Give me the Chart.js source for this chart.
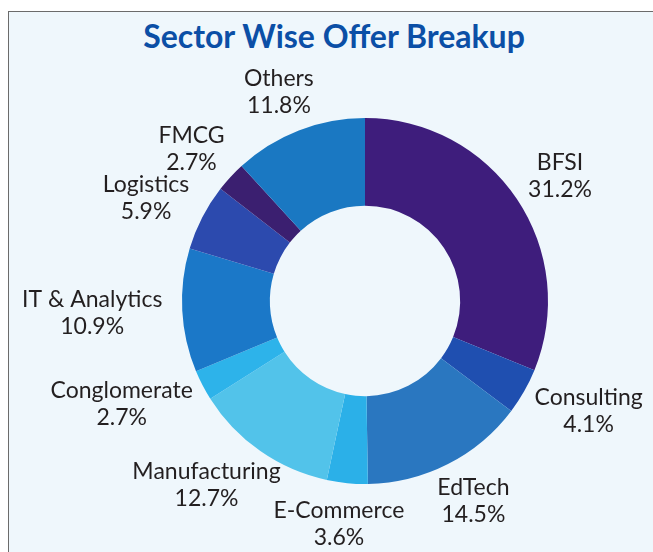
<!DOCTYPE html>
<html>
<head>
<meta charset="utf-8">
<script src="https://cdn.jsdelivr.net/npm/chart.js@4"></script>
<style>
  body { margin: 0; background: #ffffff; width: 653px; height: 552px; overflow: hidden; position: relative; font-family: Lato, sans-serif; }
  .panel { position: absolute; left: 8px; top: 11px; width: 700px; height: 600px; border-top: 1px solid #6b6b6b; border-left: 1px solid #6b6b6b; background: #eff7fc; }
  .title { position: absolute; left: 0; top: 16px; width: 668px; line-height: 40px; text-align: center; font: bold 32px Lato, sans-serif; color: #0b4fa6; }
  canvas { position: absolute; left: 0; top: 0; }
</style>
</head>
<body>
<div class="panel"></div>
<div class="title">Sector Wise Offer Breakup</div>
<canvas id="sectorChart" width="653" height="552"></canvas>
<script>
// Sector shares (percent), clockwise from 12 o'clock
const sectors = ['BFSI', 'Consulting', 'EdTech', 'E-Commerce', 'Manufacturing',
    'Conglomerate', 'IT & Analytics', 'Logistics', 'FMCG', 'Others'];
const shares = [31.2, 4.1, 14.5, 3.6, 12.7, 2.7, 10.9, 5.9, 2.7, 11.8];
const sliceColors = ['#3e1d7c', '#1f4fb0', '#2a77c0', '#2bb0e8', '#52c3ea',
    '#2db3ea', '#1b78c8', '#2c4aae', '#3b1f70', '#1a78c2'];

// Draw "name / value%" labels outside each slice
const outerLabels = {
    id: 'outerLabels',
    afterDatasetsDraw(chart) {
        const c = chart.ctx;
        const arcs = chart.getDatasetMeta(0).data;
        c.save();
        c.font = '23px Lato, sans-serif';
        c.fillStyle = '#231f20';
        c.textAlign = 'center';
        c.textBaseline = 'middle';
        const lineH = 27;
        arcs.forEach((arc, i) => {
            const mid = (arc.startAngle + arc.endAngle) / 2;
            const ux = Math.cos(mid);
            const uy = Math.sin(mid);
            const pct = shares[i].toFixed(1) + '%';
            const halfW = Math.max(c.measureText(sectors[i]).width, c.measureText(pct).width) / 2;
            const halfH = 29;
            const dist = arc.outerRadius + 12;
            const x = arc.x + ux * (dist + halfW + 8);
            const y = arc.y + uy * (dist + halfH);
            c.fillText(sectors[i], x, y - lineH / 2);
            c.fillText(pct, x, y + lineH / 2);
        });
        c.restore();
    }
};

const ctx = document.getElementById('sectorChart').getContext('2d');

new Chart(ctx, {
    type: 'doughnut',
    data: {
        labels: sectors,
        datasets: [{
            data: shares,
            backgroundColor: sliceColors,
            borderWidth: 0
        }]
    },
    options: {
        responsive: false,
        animation: false,
        cutout: '52%',
        layout: {
            padding: { left: 182, right: 105, top: 118, bottom: 68 }
        },
        plugins: {
            legend: { display: false },
            tooltip: { enabled: false }
        }
    },
    plugins: [outerLabels]
});
</script>
</body>
</html>
